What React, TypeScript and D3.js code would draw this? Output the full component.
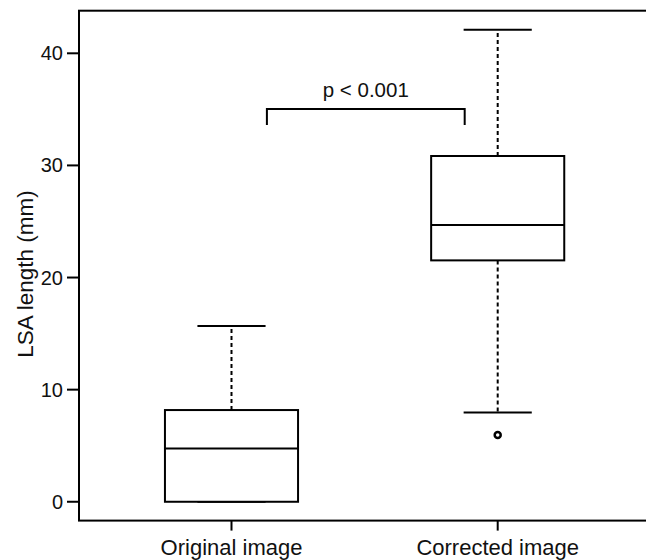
import React, { useRef, useEffect } from "react";
import * as d3 from "d3";

// data
const groups = ["Original image", "Corrected image"];
const lowerWhisker = [0, 7.97];
const q1 = [0, 21.53];
const medians = [4.76, 24.68];
const q3 = [8.18, 30.84];
const upperWhisker = [15.67, 42.1];
const outliers = [[], [5.95]];
const yTicks = [0, 10, 20, 30, 40];
const pLabel = "p < 0.001";

const App = () => {
  const svgRef = useRef(null);

  useEffect(() => {
    const width = 646;
    const font = "'Liberation Sans', Arial, sans-serif";
    const plotLeft = 79;

    const svg = d3.select(svgRef.current);
    svg.selectAll("*").remove();

    const x = d3.scaleLinear().domain([0.5, 2.5]).range([98.4, 630.8]);
    const y = d3.scaleLinear().domain([-1.68, 43.8]).range([520.6, 10.7]);

    const top = y(43.8);
    const bottom = y(-1.68);

    // frame (runs past the right edge like the reference)
    svg
      .append("rect")
      .attr("x", plotLeft)
      .attr("y", top)
      .attr("width", width + 50)
      .attr("height", bottom - top)
      .attr("fill", "none")
      .attr("stroke", "#000")
      .attr("stroke-width", 2);

    // y axis
    const yAxis = svg.append("g").attr("font-family", font);
    yAxis
      .selectAll("line")
      .data(yTicks)
      .join("line")
      .attr("x1", plotLeft - 12)
      .attr("x2", plotLeft)
      .attr("y1", (d) => y(d))
      .attr("y2", (d) => y(d))
      .attr("stroke", "#000")
      .attr("stroke-width", 2);
    yAxis
      .selectAll("text")
      .data(yTicks)
      .join("text")
      .attr("x", plotLeft - 16)
      .attr("y", (d) => y(d))
      .attr("dy", "0.35em")
      .attr("text-anchor", "end")
      .attr("font-size", 20)
      .attr("fill", "#111")
      .text((d) => d);

    svg
      .append("text")
      .attr("transform", `translate(33, ${274}) rotate(-90)`)
      .attr("text-anchor", "middle")
      .attr("font-family", font)
      .attr("font-size", 22.5)
      .attr("fill", "#111")
      .text("LSA length (mm)");

    // x axis ticks and labels
    const xAxis = svg.append("g").attr("font-family", font);
    xAxis
      .selectAll("line")
      .data(groups)
      .join("line")
      .attr("x1", (d, i) => x(i + 1))
      .attr("x2", (d, i) => x(i + 1))
      .attr("y1", bottom)
      .attr("y2", bottom + 10)
      .attr("stroke", "#000")
      .attr("stroke-width", 2);
    xAxis
      .selectAll("text")
      .data(groups)
      .join("text")
      .attr("x", (d, i) => x(i + 1))
      .attr("y", 555)
      .attr("text-anchor", "middle")
      .attr("font-size", 22)
      .attr("fill", "#111")
      .text((d) => d);

    // boxes
    const half = 0.25;
    const cap = 0.128;
    const boxes = svg
      .append("g")
      .selectAll("g")
      .data(groups)
      .join("g")
      .attr("stroke", "#000")
      .attr("stroke-width", 2)
      .attr("fill", "none");

    // whiskers (dashed)
    boxes
      .append("line")
      .attr("x1", (d, i) => x(i + 1))
      .attr("x2", (d, i) => x(i + 1))
      .attr("y1", (d, i) => y(q3[i]))
      .attr("y2", (d, i) => y(upperWhisker[i]))
      .attr("stroke-dasharray", "4,3");
    boxes
      .append("line")
      .attr("x1", (d, i) => x(i + 1))
      .attr("x2", (d, i) => x(i + 1))
      .attr("y1", (d, i) => y(q1[i]))
      .attr("y2", (d, i) => y(lowerWhisker[i]))
      .attr("stroke-dasharray", "4,3");

    // caps
    boxes
      .append("line")
      .attr("x1", (d, i) => x(i + 1 - cap))
      .attr("x2", (d, i) => x(i + 1 + cap))
      .attr("y1", (d, i) => y(upperWhisker[i]))
      .attr("y2", (d, i) => y(upperWhisker[i]));
    boxes
      .append("line")
      .attr("x1", (d, i) => x(i + 1 - cap))
      .attr("x2", (d, i) => x(i + 1 + cap))
      .attr("y1", (d, i) => y(lowerWhisker[i]))
      .attr("y2", (d, i) => y(lowerWhisker[i]));

    boxes
      .append("rect")
      .attr("x", (d, i) => x(i + 1 - half))
      .attr("width", (d, i) => x(i + 1 + half) - x(i + 1 - half))
      .attr("y", (d, i) => y(q3[i]))
      .attr("height", (d, i) => y(q1[i]) - y(q3[i]))
      .attr("fill", "#fff");

    boxes
      .append("line")
      .attr("x1", (d, i) => x(i + 1 - half))
      .attr("x2", (d, i) => x(i + 1 + half))
      .attr("y1", (d, i) => y(medians[i]))
      .attr("y2", (d, i) => y(medians[i]));

    boxes
      .selectAll("circle")
      .data((d, i) => outliers[i].map((v) => ({ v, i })))
      .join("circle")
      .attr("cx", (d) => x(d.i + 1))
      .attr("cy", (d) => y(d.v))
      .attr("r", 3)
      .attr("stroke-width", 2.5);

    // significance bracket
    const bx1 = x(1.133);
    const bx2 = x(1.876);
    const by = y(35.03);
    svg
      .append("path")
      .attr("d", `M${bx1},${y(33.6)}V${by}H${bx2}V${y(33.6)}`)
      .attr("fill", "none")
      .attr("stroke", "#000")
      .attr("stroke-width", 2);
    svg
      .append("text")
      .attr("x", (bx1 + bx2) / 2)
      .attr("y", by - 12)
      .attr("text-anchor", "middle")
      .attr("font-family", font)
      .attr("font-size", 20.5)
      .attr("fill", "#111")
      .text(pLabel);
  }, []);

  return (
    <svg
      ref={svgRef}
      width={646}
      height={560}
      style={{ position: "absolute", left: 0, top: 0, background: "#fff" }}
    />
  );
};

export default App;
